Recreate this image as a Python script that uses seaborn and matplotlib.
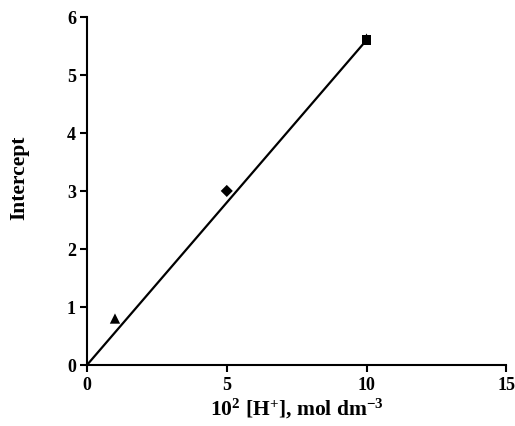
import matplotlib
matplotlib.use("Agg")
import matplotlib.pyplot as plt
import seaborn as sns
import numpy as np
import pandas as pd

sns.set_theme(style="white")
plt.rcParams['font.family'] = ['Liberation Serif', 'DejaVu Serif']
plt.rcParams['font.weight'] = 'bold'
plt.rcParams['text.color'] = 'black'
plt.rcParams['axes.labelcolor'] = 'black'
plt.rcParams['xtick.color'] = 'black'
plt.rcParams['ytick.color'] = 'black'
plt.rcParams['mathtext.fontset'] = 'custom'
plt.rcParams['mathtext.rm'] = 'Liberation Serif:bold'
plt.rcParams['mathtext.bf'] = 'Liberation Serif:bold'
plt.rcParams['mathtext.it'] = 'Liberation Serif:bold'
plt.rcParams['mathtext.default'] = 'bf'

# data
h_conc = [1, 5, 10, 10]
intercept = [0.8, 3.0, 5.64, 5.6]
marker_kind = ["tri", "dia", "tri", "sq"]
marker_size = [55, 38, 40, 45]
fit_x = [0, 10]
fit_y = [0, 5.6]

df = pd.DataFrame({"x": h_conc, "y": intercept, "m": marker_kind, "sz": marker_size})
fit = pd.DataFrame({"x": fit_x, "y": fit_y})

fig = plt.figure(figsize=(5.15, 4.27), dpi=100)
ax = fig.add_axes([0.169, 0.143, 0.814, 0.815])

sns.lineplot(data=fit, x="x", y="y", ax=ax, color="black", linewidth=1.6)
sns.scatterplot(data=df, x="x", y="y", style="m", markers={"tri": "^", "dia": "D", "sq": "s"},
                size="sz", sizes=(38, 55), color="black", edgecolor="black", linewidth=0,
                ax=ax, legend=False)

ax.set_xlim(0, 15)
ax.set_ylim(0, 6)
ax.set_xticks([0, 5, 10, 15])
ax.set_yticks([0, 1, 2, 3, 4, 5, 6])
for s in ["top", "right"]:
    ax.spines[s].set_visible(False)
for s in ["left", "bottom"]:
    ax.spines[s].set_color("black")
    ax.spines[s].set_linewidth(1.5)
ax.tick_params(axis="both", direction="out", length=5, width=1.5, color="black",
               labelsize=13, pad=3, bottom=True, left=True)
for lab in ax.get_xticklabels() + ax.get_yticklabels():
    lab.set_fontweight("bold")
ax.set_xlabel(r"10$^{2}$ [H$^{+}$], mol dm$^{-3}$", fontsize=15.5, fontweight="bold", labelpad=2)
ax.set_ylabel("Intercept", fontsize=15.5, fontweight="bold")
ax.yaxis.set_label_coords(-0.138, 0.54)

fig.savefig("out.png", dpi=100)
